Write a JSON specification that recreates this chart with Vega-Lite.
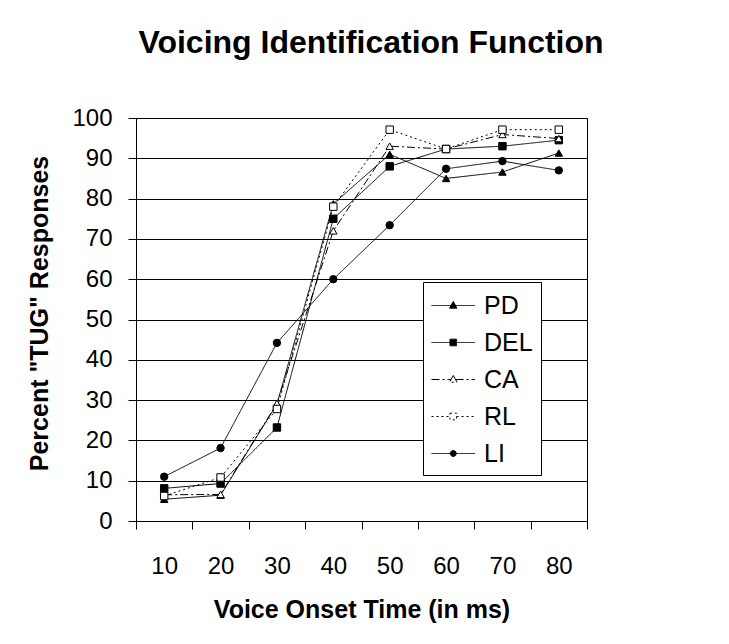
{
  "$schema": "https://vega.github.io/schema/vega-lite/v6.json",
  "width": 451,
  "height": 403,
  "autosize": {"type": "none"},
  "padding": {"left": 136, "top": 118, "right": 142, "bottom": 123},
  "background": "white",
  "config": {"font": "Liberation Sans", "view": {"stroke": "#000", "strokeWidth": 1}},
  "title": {"text": "Voicing Identification Function", "fontSize": 32, "fontWeight": "bold", "color": "#000", "anchor": "middle", "frame": "group", "dx": 9.5, "baseline": "alphabetic", "offset": 21},
  "data": {"values": [
    {"series": "PD", "vot": 10, "pct": 5.4},
    {"series": "PD", "vot": 20, "pct": 6.4},
    {"series": "PD", "vot": 30, "pct": 29},
    {"series": "PD", "vot": 40, "pct": 78.7},
    {"series": "PD", "vot": 50, "pct": 91},
    {"series": "PD", "vot": 60, "pct": 85},
    {"series": "PD", "vot": 70, "pct": 86.6},
    {"series": "PD", "vot": 80, "pct": 91.3},
    {"series": "DEL", "vot": 10, "pct": 8.1},
    {"series": "DEL", "vot": 20, "pct": 9.3},
    {"series": "DEL", "vot": 30, "pct": 23.2},
    {"series": "DEL", "vot": 40, "pct": 75},
    {"series": "DEL", "vot": 50, "pct": 88},
    {"series": "DEL", "vot": 60, "pct": 92.3},
    {"series": "DEL", "vot": 70, "pct": 93},
    {"series": "DEL", "vot": 80, "pct": 94.5},
    {"series": "CA", "vot": 10, "pct": 6.5},
    {"series": "CA", "vot": 20, "pct": 6.6},
    {"series": "CA", "vot": 30, "pct": 29.2},
    {"series": "CA", "vot": 40, "pct": 72},
    {"series": "CA", "vot": 50, "pct": 93},
    {"series": "CA", "vot": 60, "pct": 92.3},
    {"series": "CA", "vot": 70, "pct": 95.9},
    {"series": "CA", "vot": 80, "pct": 94.9},
    {"series": "RL", "vot": 10, "pct": 6.2},
    {"series": "RL", "vot": 20, "pct": 10.8},
    {"series": "RL", "vot": 30, "pct": 27.8},
    {"series": "RL", "vot": 40, "pct": 78},
    {"series": "RL", "vot": 50, "pct": 97.1},
    {"series": "RL", "vot": 60, "pct": 92.3},
    {"series": "RL", "vot": 70, "pct": 97.1},
    {"series": "RL", "vot": 80, "pct": 97.1},
    {"series": "LI", "vot": 10, "pct": 11},
    {"series": "LI", "vot": 20, "pct": 18.1},
    {"series": "LI", "vot": 30, "pct": 44.2},
    {"series": "LI", "vot": 40, "pct": 60},
    {"series": "LI", "vot": 50, "pct": 73.4},
    {"series": "LI", "vot": 60, "pct": 87.4},
    {"series": "LI", "vot": 70, "pct": 89.3},
    {"series": "LI", "vot": 80, "pct": 87}
  ]},
  "encoding": {
    "x": {
      "field": "vot", "type": "ordinal", "bandPosition": 0.5,
      "scale": {"type": "band", "paddingInner": 0, "paddingOuter": 0},
      "axis": {"title": "Voice Onset Time (in ms)", "tickBand": "extent", "labelAngle": 0, "labelFontSize": 24, "labelPadding": 25, "tickSize": 8, "tickColor": "#000", "domainColor": "#000", "labelColor": "#000", "titleFontSize": 25, "titleFontWeight": "bold", "titleColor": "#000", "titleY": 76, "titleBaseline": "top", "grid": false}
    },
    "y": {
      "field": "pct", "type": "quantitative",
      "scale": {"domain": [0, 100], "nice": false},
      "axis": {"values": [0, 10, 20, 30, 40, 50, 60, 70, 80, 90, 100], "grid": true, "gridColor": "#000", "gridWidth": 1, "domainColor": "#000", "tickColor": "#000", "tickSize": 8, "labelFontSize": 24, "labelColor": "#000", "labelPadding": 16, "labelFlush": false, "labelOverlap": false, "title": "Percent \"TUG\" Responses", "titleFontSize": 25, "titleFontWeight": "bold", "titleColor": "#000", "titleX": -89, "titleY": 195, "titleBaseline": "alphabetic", "titleAlign": "center", "titleAngle": -90}
    }
  },
  "resolve": {"legend": {"strokeDash": "independent", "shape": "independent", "fill": "independent"}},
  "layer": [
    {
      "mark": {"type": "line", "color": "#000", "strokeWidth": 1},
      "encoding": {
        "strokeDash": {
          "field": "series", "type": "nominal",
          "scale": {"domain": ["PD", "DEL", "CA", "RL", "LI"], "range": [[1, 0], [1, 0], [8, 3, 2, 3], [2, 3], [1, 0]]},
          "legend": {
            "title": null, "orient": "none", "legendX": 287, "legendY": 164,
            "strokeColor": "#000", "fillColor": "#fff", "padding": 8, "cornerRadius": 0,
            "labelFontSize": 25, "labelColor": "#000", "labelOffset": 22, "labelLimit": 200,
            "symbolSize": 900, "symbolStrokeWidth": 1, "symbolStrokeColor": "#000", "rowPadding": 8,
            "encode": {"symbols": {"update": {
              "shape": {"signal": "datum.value === 'PD' ? 'M-1,0H1.9M0.45,-0.27L0.7,0.18H0.2Z' : datum.value === 'DEL' ? 'M-1,0H1.9M0.23,-0.22H0.67V0.22H0.23Z' : datum.value === 'CA' ? 'M-1,0H0.3M0.6,0H1.9M0.45,-0.27L0.7,0.18H0.2Z' : datum.value === 'RL' ? 'M-1,0H0.23M0.67,0H1.9M0.23,-0.22H0.67V0.22H0.23Z' : 'M-1,0H1.9M0.65,0A0.2,0.2,0,1,1,0.25,0A0.2,0.2,0,1,1,0.65,0Z'"},
              "fill": {"signal": "datum.value === 'CA' || datum.value === 'RL' ? '#fff' : '#000'"},
              "stroke": {"value": "#000"},
              "opacity": {"value": 1},
              "fillOpacity": {"value": 1}
            }}}
          }
        }
      }
    },
    {
      "mark": {"type": "point", "stroke": "#000", "strokeWidth": 1, "opacity": 1, "fillOpacity": 1, "size": 55},
      "encoding": {
        "shape": {"field": "series", "type": "nominal", "scale": {"domain": ["PD", "DEL", "CA", "RL", "LI"], "range": ["triangle-up", "square", "triangle-up", "square", "circle"]}, "legend": null},
        "fill": {"field": "series", "type": "nominal", "scale": {"domain": ["PD", "DEL", "CA", "RL", "LI"], "range": ["#000", "#000", "#fff", "#fff", "#000"]}, "legend": null}
      }
    }
  ]
}
